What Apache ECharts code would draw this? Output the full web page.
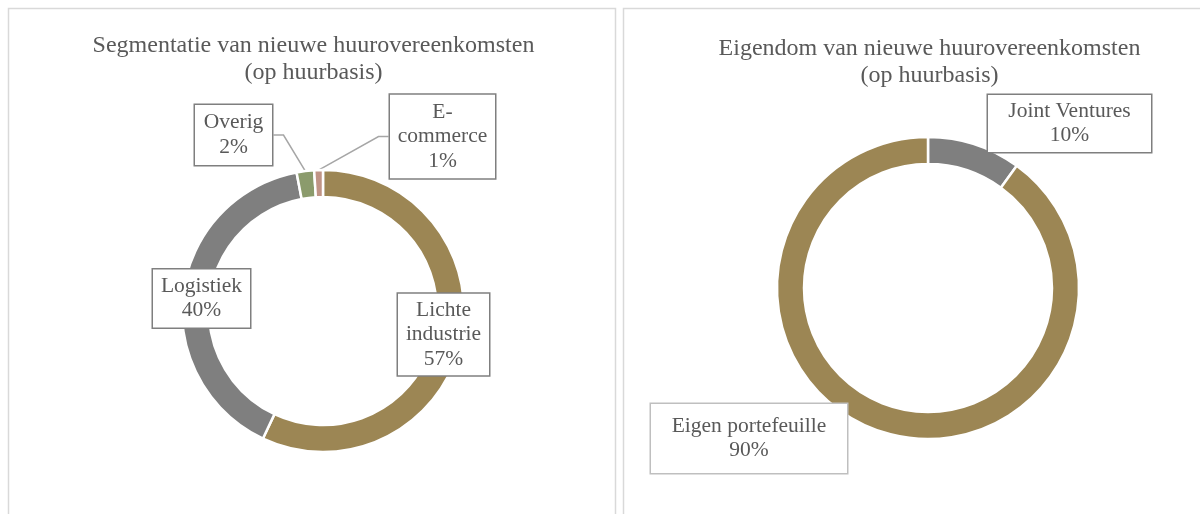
<!DOCTYPE html>
<html>
<head>
<meta charset="utf-8">
<script src="https://cdn.jsdelivr.net/npm/echarts@6/dist/echarts.min.js"></script>
<style>
html,body{margin:0;padding:0;background:#fff;}
#chart{width:1200px;height:514px;}
</style>
</head>
<body>
<div id="chart"></div>
<script>
// ---- data ----
const segTitle = 'Segmentatie van nieuwe huurovereenkomsten\n(op huurbasis)';
const segCategories = ['Lichte industrie', 'Logistiek', 'Overig', 'E-commerce'];
const segLabelText = ['Lichte\nindustrie', 'Logistiek', 'Overig', 'E-\ncommerce'];
const segValues = [57, 40, 2, 1];

const ownTitle = 'Eigendom van nieuwe huurovereenkomsten\n(op huurbasis)';
const ownCategories = ['Joint Ventures', 'Eigen portefeuille'];
const ownLabelText = ['Joint Ventures', 'Eigen portefeuille'];
const ownValues = [10, 90];

// ---- styles / layout (not data) ----
const segColors = ['#9C8654', '#7F7F7F', '#8B9B6C', '#C09486'];
const ownColors = ['#7F7F7F', '#9C8654'];
const textColor = '#595959';
const font = 'Liberation Serif, Times New Roman, serif';

// label box placements: [centerX, centerY, contentWidth, verticalPadding, borderColor, showLine]
const segLabelBoxes = [
  [443.5, 334.5, 91, 4, '#7F7F7F', false],
  [201.5, 298.5, 97, 4.5, '#7F7F7F', false],
  [233.5, 135, 77, 5.5, '#7F7F7F', true],
  [442.5, 136.5, 105, 5, '#7F7F7F', true]
];
const ownLabelBoxes = [
  [1069.5, 123.5, 163, 4, '#7F7F7F', false],
  [749, 438.5, 196, 10, '#BFBFBF', false]
];

function buildData(cats, vals, colors, boxes) {
  return cats.map((c, i) => ({
    name: c,
    value: vals[i],
    itemStyle: { color: colors[i] },
    label: {
      width: boxes[i][2],
      padding: [boxes[i][3], 0],
      borderColor: boxes[i][4]
    },
    labelLine: { show: boxes[i][5] }
  }));
}

function makeLabel(texts) {
  return {
    show: true,
    position: 'outside',
    formatter: p => texts[p.dataIndex] + '\n' + Math.round(p.percent) + '%',
    fontFamily: font,
    fontSize: 21.5,
    lineHeight: 24.5,
    color: textColor,
    backgroundColor: '#fff',
    borderWidth: 1.5,
    align: 'center'
  };
}

function makeLayout(boxes) {
  return function (params) {
    const b = boxes[params.dataIndex];
    return { x: b[0], y: b[1], align: 'center', verticalAlign: 'middle' };
  };
}

const chart = echarts.init(document.getElementById('chart'), null, { renderer: 'canvas' });
chart.setOption({
  backgroundColor: '#fff',
  animation: false,
  graphic: [
    { type: 'rect', shape: { x: 8.5, y: 8.5, width: 607, height: 530 }, style: { fill: 'none', stroke: '#D9D9D9', lineWidth: 1.5 }, silent: true },
    { type: 'rect', shape: { x: 623.5, y: 8.5, width: 620, height: 530 }, style: { fill: 'none', stroke: '#D9D9D9', lineWidth: 1.5 }, silent: true }
  ],
  title: [
    {
      text: segTitle, left: 313.5, top: 32, textAlign: 'center', padding: 0,
      textStyle: { fontFamily: font, fontSize: 24, fontWeight: 'normal', color: textColor, lineHeight: 27 }
    },
    {
      text: ownTitle, left: 929.5, top: 35, textAlign: 'center', padding: 0,
      textStyle: { fontFamily: font, fontSize: 24, fontWeight: 'normal', color: textColor, lineHeight: 27 }
    }
  ],
  series: [
    {
      type: 'pie',
      center: [323, 311],
      radius: [114, 141],
      startAngle: 90,
      clockwise: true,
      avoidLabelOverlap: false,
      itemStyle: { borderColor: '#fff', borderWidth: 2.5 },
      label: makeLabel(segLabelText),
      labelLine: { show: false, length: 10, length2: 10, lineStyle: { color: '#A6A6A6', width: 1.5 } },
      labelLayout: makeLayout(segLabelBoxes),
      emphasis: { disabled: true },
      data: buildData(segCategories, segValues, segColors, segLabelBoxes)
    },
    {
      type: 'pie',
      center: [928, 288],
      radius: [124, 151],
      startAngle: 90,
      clockwise: true,
      avoidLabelOverlap: false,
      itemStyle: { borderColor: '#fff', borderWidth: 2.5 },
      label: makeLabel(ownLabelText),
      labelLine: { show: false },
      labelLayout: makeLayout(ownLabelBoxes),
      emphasis: { disabled: true },
      data: buildData(ownCategories, ownValues, ownColors, ownLabelBoxes)
    }
  ]
});
</script>
</body>
</html>
